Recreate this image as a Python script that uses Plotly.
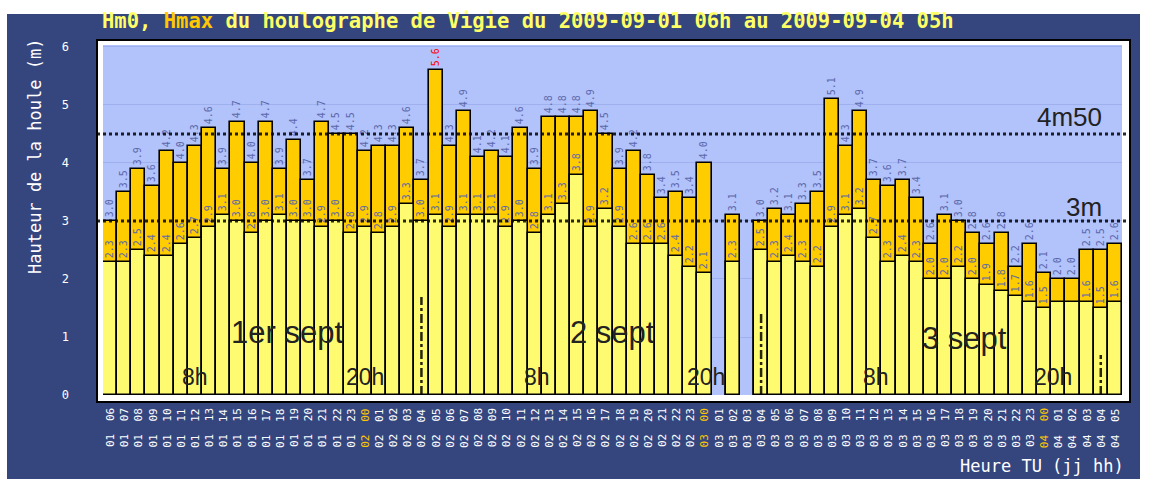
import plotly.graph_objects as go

# ---------------- data ----------------
hours = ["06","07","08","09","10","11","12","13","14","15","16","17","18","19","20","21","22","23",
         "00","01","02","03","04","05","06","07","08","09","10","11","12","13","14","15","16","17","18","19","20","21","22","23",
         "00","01","02","03","04","05","06","07","08","09","10","11","12","13","14","15","16","17","18","19","20","21","22","23",
         "00","01","02","03","04","05"]
days = ["01"] * 18 + ["02"] * 24 + ["03"] * 24 + ["04"] * 6

hmax = [3.0, 3.5, 3.9, 3.6, 4.2, 4.0, 4.3, 4.6, 3.9, 4.7, 4.0, 4.7, 3.9, 4.4, 3.7, 4.7, 4.5, 4.5,
        4.2, 4.3, 4.3, 4.6, 3.7, 5.6, 4.3, 4.9, 4.1, 4.2, 4.1, 4.6, 3.9, 4.8, 4.8, 4.8, 4.9, 4.5,
        3.9, 4.2, 3.8, 3.4, 3.5, 3.4,
        4.0, None, 3.1, None, 3.0, 3.2, 3.1, 3.3, 3.5, 5.1, 4.3, 4.9, 3.7, 3.6, 3.7, 3.4,
        2.6, 3.1, 3.0, 2.8, 2.6, 2.8, 2.2, 2.6,
        2.1, 2.0, 2.0, 2.5, 2.5, 2.6]
hm0 = [2.3, 2.3, 2.5, 2.4, 2.4, 2.6, 2.7, 2.9, 3.1, 3.0, 2.8, 3.0, 3.1, 3.0, 3.0, 2.9, 3.0, 2.8,
       2.9, 2.8, 2.9, 3.3, 3.0, 3.1, 2.9, 3.1, 3.1, 3.1, 2.9, 3.0, 2.8, 3.1, 3.3, 3.8, 2.9, 3.2,
       2.9, 2.6, 2.6, 2.6, 2.4, 2.2,
       2.1, None, 2.3, None, 2.5, 2.3, 2.4, 2.3, 2.2, 2.9, 3.1, 3.2, 2.7, 2.3, 2.4, 2.3,
       2.0, 2.0, 2.2, 2.0, 1.9, 1.8, 1.7, 1.6,
       1.5, 1.6, 1.6, 1.6, 1.5, 1.6]
hm0_hidden_labels = [67, 68]

seuils = [4.5, 3.0]
seuil_labels = ["4m50", "3m"]
seuil_label_pos = [(67.8, 4.79), (68.8, 3.24)]

day_notes = ["1er sept", "2 sept", "3 sept"]
day_note_pos = [(12.5, 1.07), (35.5, 1.07), (60.4, 0.98)]
hour_notes = ["8h", "20h", "8h", "20h", "8h", "20h"]
hour_note_pos = [6.0, 18.0, 30.2, 42.1, 54.1, 66.6]
day_marks = [(22, 1.69), (46, 1.43), (70, 0.69)]

title_txt = ("<b>Hm0, <span style='color:#ffc800'>Hmax</span> du houlographe de Vigie "
             "du 2009-09-01 06h au 2009-09-04 05h</b>")

# ---------------- figure ----------------
cats = [f"{d} {h}" for d, h in zip(days, hours)]
W, H = 1152, 479
L, R, T, B = 103, 30, 45, 84
pw, ph = W - L - R, H - T - B
def px(x): return (x - L) / pw
def py(y): return (H - B - y) / ph

BLUE_BG = "#35467f"
LAV = "#b2c2fb"
LBL = "#5a68aa"
MONO = "DejaVu Sans Mono"

vmax = max(v for v in hmax if v is not None)
hmax_txt = [("" if v is None else f"{v:.1f}") for v in hmax]
hmax_col = [("#ff0000" if v == vmax else LBL) for v in hmax]
hm0_txt = [("" if (v is None or i in hm0_hidden_labels) else f"{v:.1f}") for i, v in enumerate(hm0)]

fig = go.Figure()
fig.add_trace(go.Bar(
    x=cats, y=hmax, name="Hmax", marker=dict(color="#ffcc00", line=dict(color="black", width=1.6)),
    text=hmax_txt, textposition="outside", textangle=-90,
    textfont=dict(family=MONO, size=10, color=hmax_col), cliponaxis=False, constraintext="none",
    hoverinfo="x+y"))
fig.add_trace(go.Bar(
    x=cats, y=hm0, name="Hm0", marker=dict(color="#fffb70", line=dict(color="black", width=1.6)),
    text=hm0_txt, textposition="outside", textangle=-90,
    textfont=dict(family=MONO, size=10, color=LBL), cliponaxis=False, constraintext="none",
    hoverinfo="x+y"))

shapes = [
    dict(type="rect", xref="paper", yref="paper", x0=px(7), x1=px(1140), y0=py(479), y1=py(14),
         fillcolor=BLUE_BG, line=dict(width=0), layer="below"),
    dict(type="rect", xref="paper", yref="paper", x0=px(97), x1=px(1130), y0=py(402), y1=py(40),
         fillcolor="white", line=dict(color="black", width=2), layer="below"),
    dict(type="rect", xref="paper", yref="paper", x0=0, x1=1, y0=0, y1=1,
         fillcolor=LAV, line=dict(width=0), layer="below"),
]
for s in seuils:
    shapes.append(dict(type="line", xref="paper", yref="y", x0=px(97), x1=px(1130), y0=s, y1=s,
                       line=dict(color="rgba(0,0,0,0.85)", width=3, dash="dot"), layer="above"))
for xm, ym in day_marks:
    shapes.append(dict(type="line", xref="x", yref="y", x0=xm, x1=xm, y0=0, y1=ym,
                       line=dict(color="rgba(0,0,0,0.85)", width=2.5, dash="dashdot"), layer="above"))

ann = []
ann.append(dict(text=title_txt, xref="paper", yref="paper", x=px(100), y=py(21), xanchor="left",
                yanchor="middle", showarrow=False, font=dict(family=MONO, size=20.5, color="#ffff66")))
ann.append(dict(text="Hauteur de la houle (m)", xref="paper", yref="paper", x=px(35), y=py(157),
                xanchor="center", yanchor="middle",
                textangle=-90, showarrow=False, font=dict(family=MONO, size=17, color="white")))
ann.append(dict(text="Heure TU (jj hh)", xref="paper", yref="paper", x=px(1126), y=py(466),
                xanchor="right", yanchor="middle", showarrow=False,
                font=dict(family=MONO, size=17, color="white")))
for t, (xx, yy) in zip(seuil_labels, seuil_label_pos):
    ann.append(dict(text=t, x=xx, y=yy, xref="x", yref="y", showarrow=False,
                    font=dict(family="Liberation Sans", size=26, color="#222222")))
for t, (xx, yy) in zip(day_notes, day_note_pos):
    ann.append(dict(text=t, x=xx, y=yy, xref="x", yref="y", showarrow=False,
                    font=dict(family="Liberation Sans", size=31, color="#222222")))
for t, xx in zip(hour_notes, hour_note_pos):
    ann.append(dict(text=t, x=xx, y=0.31, xref="x", yref="y", showarrow=False,
                    font=dict(family="Liberation Sans", size=23, color="#222222")))
for i, (d, h) in enumerate(zip(days, hours)):
    col = "#ffc800" if h == "00" else "white"
    ann.append(dict(text=h, x=i, y=py(415), xref="x", yref="paper", textangle=-90, showarrow=False,
                    xanchor="center", yanchor="middle",
                    font=dict(family=MONO, size=11, color=col)))
    ann.append(dict(text=d, x=i, y=py(441), xref="x", yref="paper", textangle=-90, showarrow=False,
                    xanchor="center", yanchor="middle",
                    font=dict(family=MONO, size=11, color=col)))

fig.update_layout(
    width=W, height=H, margin=dict(l=L, r=R, t=T, b=B, autoexpand=False),
    paper_bgcolor="white", plot_bgcolor=LAV,
    barmode="overlay", bargap=0, showlegend=False,
    shapes=shapes, annotations=ann,
    xaxis=dict(type="category", range=[-0.5, 71.5], showticklabels=False, showgrid=False,
               zeroline=False, ticks=""),
    yaxis=dict(range=[0, 6.034], tickvals=[0, 1, 2, 3, 4, 5, 6], showgrid=True, gridcolor="#9fb0ee",
               gridwidth=1, zeroline=False, ticks="", ticklabelstandoff=33,
               tickfont=dict(family=MONO, size=12, color="white")),
)
fig.write_html("out.html", config={"displayModeBar": False},
               post_script="document.body.style.margin='0px';document.body.style.padding='0px';")
